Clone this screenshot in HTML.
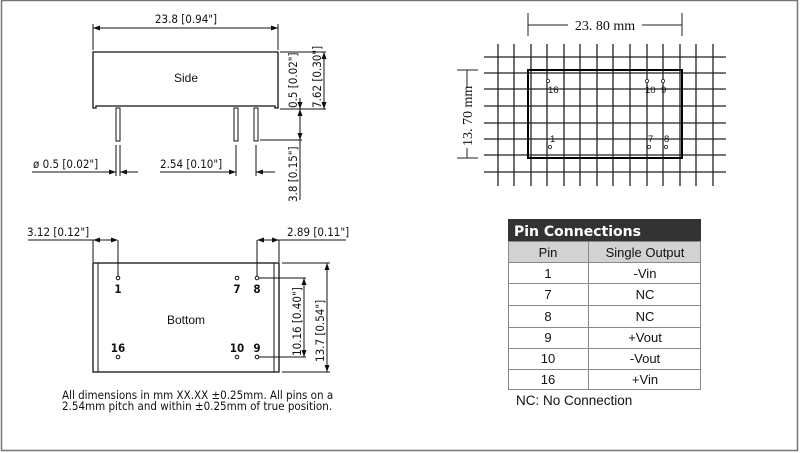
<!DOCTYPE html>
<html><head><meta charset="utf-8"><style>
html,body{margin:0;padding:0;background:#fff;}
svg{display:block;}
.t{font-family:"DejaVu Sans Condensed","DejaVu Sans","Liberation Sans",sans-serif;font-size:11.5px;fill:#111;}
.a{font-family:"Liberation Sans",sans-serif;fill:#111;}
.m{font-family:"Liberation Serif",serif;fill:#111;}
</style></head><body>
<svg width="800" height="453" viewBox="0 0 800 453" xmlns="http://www.w3.org/2000/svg">
<rect x="1.5" y="0.5" width="796" height="450" fill="none" stroke="#777" stroke-width="1.5"/>

<g stroke="#111" stroke-width="1" fill="none">
<line x1="93" y1="24" x2="93" y2="50"/><line x1="278" y1="24" x2="278" y2="50"/>
<line x1="93" y1="28" x2="278" y2="28"/>
<path d="M93,52 H278 V108 H275 V106 H96 V108 H93 Z" stroke-width="1.3"/>
<rect x="116" y="108" width="4" height="33"/>
<rect x="234" y="108" width="4" height="33"/>
<rect x="254" y="108" width="4" height="33"/>
<line x1="116" y1="145" x2="116" y2="176"/><line x1="120" y1="145" x2="120" y2="176"/>
<line x1="32" y1="172" x2="116" y2="172"/>
<line x1="120" y1="172" x2="138" y2="172"/>
<line x1="236" y1="145" x2="236" y2="176"/><line x1="256" y1="145" x2="256" y2="176"/>
<line x1="160" y1="172" x2="236" y2="172"/>
<line x1="256" y1="172" x2="275" y2="172"/>
<line x1="280" y1="52" x2="326" y2="52"/>
<line x1="280" y1="109" x2="326" y2="109"/>
<line x1="260" y1="140" x2="302" y2="140"/>
<line x1="324" y1="52" x2="324" y2="109"/>
<line x1="300" y1="98" x2="300" y2="200"/>
<rect x="93" y="263" width="186" height="109" stroke-width="1.3"/>
<line x1="98" y1="263" x2="98" y2="372"/><line x1="274" y1="263" x2="274" y2="372"/>
<line x1="93" y1="240" x2="93" y2="262"/><line x1="118" y1="240" x2="118" y2="276"/>
<line x1="28" y1="240" x2="116" y2="240"/>
<line x1="257" y1="240" x2="257" y2="276"/><line x1="279" y1="240" x2="279" y2="262"/>
<line x1="259" y1="240" x2="346" y2="240"/>
<line x1="259" y1="278" x2="306" y2="278"/><line x1="259" y1="357" x2="306" y2="357"/>
<line x1="304" y1="278" x2="304" y2="357"/>
<line x1="282" y1="263" x2="330" y2="263"/><line x1="282" y1="372" x2="330" y2="372"/>
<line x1="327" y1="263" x2="327" y2="372"/>
<circle cx="118" cy="278" r="1.8"/><circle cx="237" cy="278" r="1.8"/><circle cx="257" cy="278" r="1.8"/>
<circle cx="118" cy="357" r="1.8"/><circle cx="237" cy="357" r="1.8"/><circle cx="257" cy="357" r="1.8"/>
</g>
<g fill="#111">
<path d="M93,28 l7,-2.5 v5z"/><path d="M278,28 l-7,-2.5 v5z"/>
<path d="M116,172 l-7,-2.5 v5z"/><path d="M120,172 l7,-2.5 v5z"/>
<path d="M236,172 l-7,-2.5 v5z"/><path d="M256,172 l7,-2.5 v5z"/>
<path d="M324,52 l-2.5,7 h5z"/><path d="M324,109 l-2.5,-7 h5z"/>
<path d="M300,109 l-2.5,-7 h5z"/><path d="M300,109 l-2.5,7 h5z"/><path d="M300,140 l-2.5,-7 h5z"/>
<path d="M93,240 l7,-2.5 v5z"/><path d="M118,240 l-7,-2.5 v5z"/>
<path d="M257,240 l7,-2.5 v5z"/><path d="M279,240 l-7,-2.5 v5z"/>
<path d="M304,278 l-2.5,7 h5z"/><path d="M304,357 l-2.5,-7 h5z"/>
<path d="M327,263 l-2.5,7 h5z"/><path d="M327,372 l-2.5,-7 h5z"/>
</g>
<text class="t" x="186" y="23" text-anchor="middle">23.8 [0.94"]</text>
<text class="a" x="186" y="82" text-anchor="middle" font-size="12">Side</text>
<text class="t" x="33" y="168">ø 0.5 [0.02"]</text>
<text class="t" x="160" y="168">2.54 [0.10"]</text>
<text class="t" transform="translate(297,108) rotate(-90)">0.5 [0.02"]</text>
<text class="t" transform="translate(321,108) rotate(-90)">7.62 [0.30"]</text>
<text class="t" transform="translate(297,202) rotate(-90)">3.8 [0.15"]</text>
<text class="t" x="27" y="236">3.12 [0.12"]</text>
<text class="t" x="287" y="236">2.89 [0.11"]</text>
<text class="a" x="186" y="324" text-anchor="middle" font-size="12">Bottom</text>
<g class="t" font-size="8" text-anchor="middle" font-weight="bold">
<text x="118" y="293">1</text><text x="237" y="293">7</text><text x="257" y="293">8</text>
<text x="118" y="352">16</text><text x="237" y="352">10</text><text x="257" y="352">9</text>
</g>
<text class="t" transform="translate(301,356) rotate(-90)">10.16 [0.40"]</text>
<text class="t" transform="translate(324,362) rotate(-90)">13.7 [0.54"]</text>
<text class="t" x="62" y="399" font-size="9.8">All dimensions in mm XX.XX ±0.25mm. All pins on a</text>
<text class="t" x="62" y="410" font-size="9.8">2.54mm pitch and within ±0.25mm of true position.</text>

<g stroke="#222" stroke-width="1">
<line x1="528" y1="13" x2="528" y2="36"/><line x1="682" y1="13" x2="682" y2="36"/>
<line x1="528" y1="25" x2="568" y2="25"/><line x1="642" y1="25" x2="682" y2="25"/>
<line x1="457" y1="70" x2="478" y2="70"/><line x1="457" y1="158" x2="478" y2="158"/>
<line x1="467" y1="70" x2="467" y2="88"/><line x1="467" y1="148" x2="467" y2="158"/>
<g stroke-width="1.3">
<line x1="498" y1="44" x2="498" y2="186"/><line x1="514" y1="44" x2="514" y2="186"/>
<line x1="531" y1="44" x2="531" y2="186"/><line x1="547" y1="44" x2="547" y2="186"/>
<line x1="564" y1="44" x2="564" y2="186"/><line x1="580" y1="44" x2="580" y2="186"/>
<line x1="597" y1="44" x2="597" y2="186"/><line x1="613" y1="44" x2="613" y2="186"/>
<line x1="630" y1="44" x2="630" y2="186"/><line x1="647" y1="44" x2="647" y2="186"/>
<line x1="663" y1="44" x2="663" y2="186"/><line x1="680" y1="44" x2="680" y2="186"/>
<line x1="696" y1="44" x2="696" y2="186"/><line x1="713" y1="44" x2="713" y2="186"/>
<line x1="484" y1="57" x2="726" y2="57"/><line x1="484" y1="73" x2="726" y2="73"/>
<line x1="484" y1="89" x2="726" y2="89"/><line x1="484" y1="106" x2="726" y2="106"/>
<line x1="484" y1="123" x2="726" y2="123"/><line x1="484" y1="139" x2="726" y2="139"/>
<line x1="484" y1="155" x2="726" y2="155"/><line x1="484" y1="172" x2="726" y2="172"/>
</g>
<rect x="528" y="70" width="154" height="88" fill="none" stroke="#000" stroke-width="2"/>
<g fill="#fff" stroke-width="0.8">
<circle cx="548" cy="81" r="1.6"/><circle cx="647" cy="81" r="1.6"/><circle cx="663" cy="81" r="1.6"/>
<circle cx="550" cy="147" r="1.6"/><circle cx="649" cy="147" r="1.6"/><circle cx="666" cy="147" r="1.6"/>
</g>
</g>
<text class="m" x="605" y="30" text-anchor="middle" font-size="14">23. 80 mm</text>
<text class="m" transform="translate(472,146) rotate(-90)" font-size="14">13. 70 mm</text>
<g class="a" font-size="9.5">
<text x="548" y="93">16</text><text x="645" y="93">10</text><text x="661" y="93">9</text>
<text x="550" y="142">1</text><text x="648" y="142">7</text><text x="664" y="142">8</text>
</g>

<rect x="508" y="219" width="193" height="22" fill="#333"/>
<text x="514" y="236" font-family="DejaVu Sans,sans-serif" font-weight="bold" font-size="14" fill="#fff">Pin Connections</text>
<rect x="508" y="241" width="193" height="21" fill="#d2d2d2"/>
<g stroke="#888" stroke-width="1" fill="none">
<rect x="508.5" y="241.5" width="192" height="148"/>
<line x1="588.5" y1="241" x2="588.5" y2="390"/>
<line x1="508" y1="262.5" x2="701" y2="262.5"/><line x1="508" y1="283.5" x2="701" y2="283.5"/>
<line x1="508" y1="305.5" x2="701" y2="305.5"/><line x1="508" y1="327.5" x2="701" y2="327.5"/>
<line x1="508" y1="348.5" x2="701" y2="348.5"/><line x1="508" y1="369.5" x2="701" y2="369.5"/>
</g>
<g class="a" font-size="13" text-anchor="middle">
<text x="548" y="257">Pin</text><text x="645" y="257">Single Output</text>
<text x="548" y="278">1</text><text x="645" y="278">-Vin</text>
<text x="548" y="299">7</text><text x="645" y="299">NC</text>
<text x="548" y="321">8</text><text x="645" y="321">NC</text>
<text x="548" y="342">9</text><text x="645" y="342">+Vout</text>
<text x="548" y="363">10</text><text x="645" y="363">-Vout</text>
<text x="548" y="384">16</text><text x="645" y="384">+Vin</text>
</g>
<text class="a" x="516" y="405" font-size="13.5">NC: No Connection</text>
</svg>
</body></html>
